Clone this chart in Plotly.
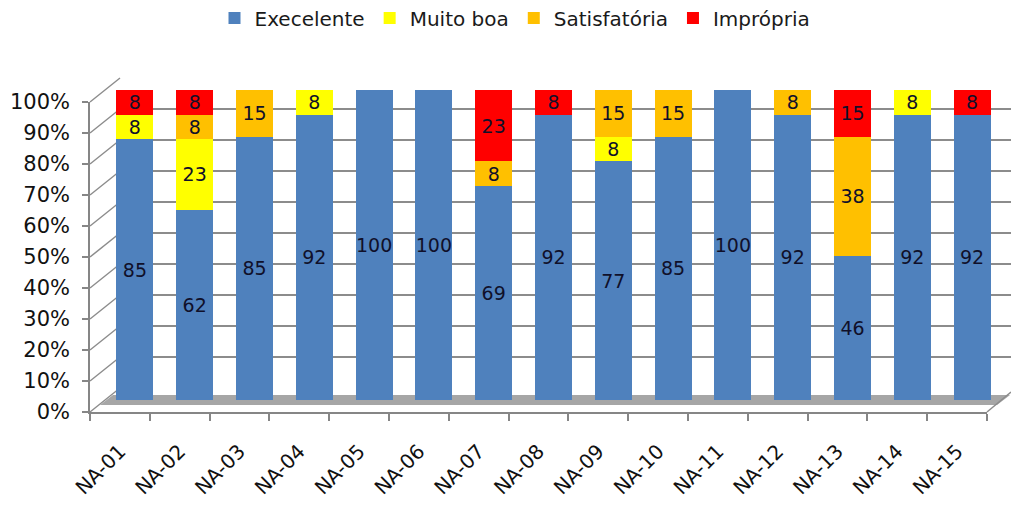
import plotly.graph_objects as go

# Water-quality classification per sampling point (percent of samples)
points = ["NA-01", "NA-02", "NA-03", "NA-04", "NA-05", "NA-06", "NA-07", "NA-08",
          "NA-09", "NA-10", "NA-11", "NA-12", "NA-13", "NA-14", "NA-15"]
excelente = [85, 62, 85, 92, 100, 100, 69, 92, 77, 85, 100, 92, 46, 92, 92]
muito_boa = [8, 23, 0, 8, 0, 0, 0, 0, 8, 0, 0, 0, 0, 8, 0]
satisfatoria = [0, 8, 15, 0, 0, 0, 8, 0, 15, 15, 0, 8, 38, 0, 0]
impropria = [8, 8, 0, 0, 0, 0, 23, 8, 0, 0, 0, 0, 15, 0, 8]
y_ticks = [0, 10, 20, 30, 40, 50, 60, 70, 80, 90, 100]

series = [
    ("Execelente", excelente, "#4F81BD"),
    ("Muito boa", muito_boa, "#FFFF00"),
    ("Satisfatória", satisfatoria, "#FFC000"),
    ("Imprópria", impropria, "#FF0000"),
]

W, H = 1011, 506
# pixel frame of the paper area (front axis corner at bottom-left)
L, R, T, B = 90, 1011, 78, 412
PW, PH = R - L, B - T
DX, DY = 15, 12          # depth step between front, bars and back wall


def px(x):
    return (x - L) / PW


def py(y):
    return (B - y) / PH


FONT = "DejaVu Sans"
fig = go.Figure()

# back wall (gridlines) -> xy ; front axes -> x2y2 ; cylinders -> x3y3
fig.add_trace(go.Scatter(x=[0], y=[None], xaxis="x", yaxis="y", showlegend=False,
                         hoverinfo="skip", mode="markers"))
fig.add_trace(go.Scatter(x=points, y=[None] * len(points), xaxis="x2", yaxis="y2",
                         showlegend=False, hoverinfo="skip", mode="markers"))

for name, vals, color in series:
    fig.add_trace(go.Bar(
        x=points, y=vals, name=name, xaxis="x3", yaxis="y3",
        marker=dict(color=color, line=dict(width=0)),
        text=[str(v) if v else "" for v in vals],
        textposition="inside", insidetextanchor="middle", textangle=0,
        textfont=dict(family=FONT, size=19, color="#10102a"),
        cliponaxis=False,
    ))

grid_col = "#8C8C8C"
axis_col = "#868686"

layout = dict(
    width=W, height=H,
    margin=dict(l=L, r=W - R, t=T, b=H - B, pad=0),
    paper_bgcolor="white", plot_bgcolor="rgba(0,0,0,0)",
    barmode="stack", barnorm="percent", bargap=0.38,
    uniformtext=dict(minsize=19, mode="show"),
    showlegend=True,
    legend=dict(orientation="h", xref="container", yref="container",
                x=515 / W, y=1 - 18 / H, xanchor="center", yanchor="middle",
                font=dict(family=FONT, size=20, color="#1a1a1a"),
                traceorder="normal", itemwidth=30),
    # back wall
    xaxis=dict(domain=[px(L + 2 * DX), 1], range=[0, 1], visible=False, anchor="y"),
    yaxis=dict(domain=[py(B - 2 * DY), 1], range=[0, 100], anchor="x",
               tickvals=y_ticks, showticklabels=False, ticks="",
               showgrid=True, gridcolor=grid_col, gridwidth=1.5,
               zeroline=False, showline=False),
    # front axes
    xaxis2=dict(domain=[0, px(987)], type="category", range=[-0.5, 14.5],
                anchor="y2", showgrid=False, showline=True, linecolor=axis_col,
                linewidth=1.5, ticks="outside", tickson="boundaries",
                ticklen=7, tickcolor=axis_col, tickwidth=1.5,
                tickangle=-45, ticklabelstandoff=18,
                tickfont=dict(family=FONT, size=20, color="#111111")),
    yaxis2=dict(domain=[0, py(102)], range=[0, 100], anchor="x2",
                tickvals=y_ticks, ticktext=[f"{v}%" for v in y_ticks],
                showgrid=False, zeroline=False, showline=True, linecolor=axis_col,
                linewidth=1.5, ticks="outside", ticklen=6, tickcolor=axis_col,
                tickwidth=1.5, ticklabelstandoff=8,
                tickfont=dict(family=FONT, size=21, color="#111111")),
    # cylinders
    xaxis3=dict(domain=[px(L + DX), px(987 + DX)], type="category",
                range=[-0.5, 14.5], anchor="y3", visible=False),
    yaxis3=dict(domain=[py(B - DY), py(102 - DY)], range=[0, 100.001],
                anchor="x3", visible=False),
)
fig.update_layout(**layout)

# floor slab and side-wall edges
shapes = []
shapes.append(dict(type="path", xref="paper", yref="paper", layer="below",
                   path=(f"M {px(L + 10)} {py(405)} L {px(997)} {py(405)} "
                         f"L {px(1010)} {py(395)} L {px(L + 23)} {py(395)} Z"),
                   fillcolor="#A6A6A6", line=dict(width=0)))
front_top, front_bot = 102, 412
back_top, back_bot = 78, 388
for v in y_ticks:
    yf = front_bot - (front_bot - front_top) * v / 100
    yb = back_bot - (back_bot - back_top) * v / 100
    shapes.append(dict(type="line", xref="paper", yref="paper", layer="below",
                       x0=px(L), y0=py(yf), x1=px(L + 2 * DX), y1=py(yb),
                       line=dict(color=grid_col, width=1.5)))
shapes.append(dict(type="line", xref="paper", yref="paper", layer="below",
                   x0=px(987), y0=py(412), x1=px(1011), y1=py(392),
                   line=dict(color=grid_col, width=1.5)))
fig.update_layout(shapes=shapes)

fig.write_html("out.html")
